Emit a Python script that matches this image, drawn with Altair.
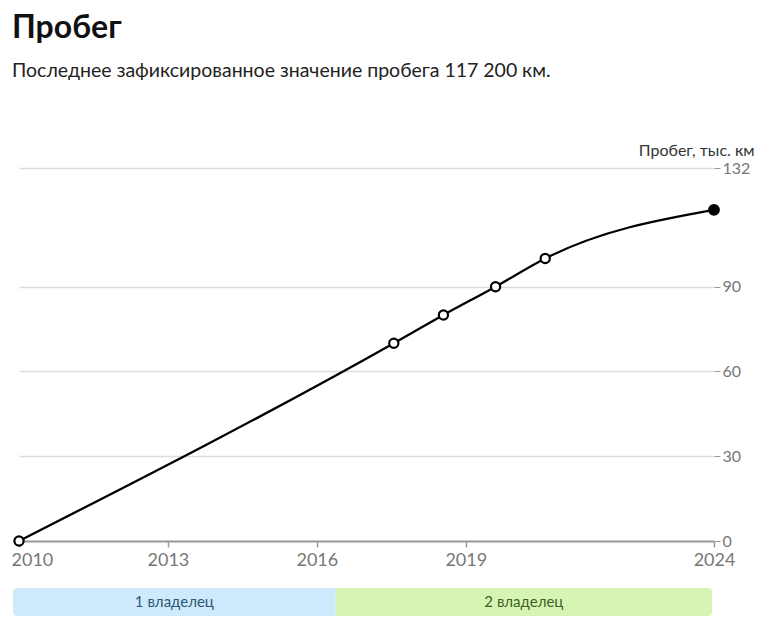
import altair as alt
import pandas as pd

# ---- data ----
years = [2010.0, 2017.55, 2018.55, 2019.6, 2020.6, 2024.0]
mileage = [0, 70, 80, 90, 100, 117.2]          # тыс. км
is_last = [False, False, False, False, False, True]

owner_labels = ["1 владелец", "2 владелец"]
owner_start = [2009.88, 2016.38]
owner_end = [2016.38, 2023.96]

x_ticks = [2010, 2013, 2016, 2019, 2024]
y_ticks = [0, 30, 60, 90, 132]

FONT = "Lato"
W, H = 695, 373

df = pd.DataFrame({"year": years, "km": mileage, "last": is_last})
bdf = pd.DataFrame({"owner": owner_labels, "start": owner_start, "end": owner_end})

x_scale = alt.Scale(domain=[2010, 2024], nice=False, zero=False)
y_scale = alt.Scale(domain=[0, 132], nice=False)

x_axis = alt.Axis(
    values=x_ticks, format="d", title=None, grid=False,
    labelFontSize=18, labelColor="#777", labelFont=FONT, labelPadding=4,
    labelFlush=False,
    labelAlign={"condition": {"test": "datum.value == 2010", "value": "left"}, "value": "center"},
    labelOffset={"condition": {"test": "datum.value == 2010", "value": -8}, "value": 0},
    tickColor="#999", tickSize=6, tickWidth=1.5,
    domainColor="#999", domainWidth=2,
)
y_axis = alt.Axis(
    orient="right", values=y_ticks, title="Пробег, тыс. км",
    titleAngle=0, titleAlign="right", titleBaseline="alphabetic",
    titleX=40, titleY=-13, titleFontSize=16, titleFontWeight="normal",
    titleColor="#333", titleFont=FONT,
    labelFontSize=16, labelColor="#777", labelFont=FONT, labelPadding=2,
    labelBaseline="middle",
    tickColor="#999", tickSize=6, domain=False,
    grid=True, gridColor="#dcdcdc", gridWidth=1.3,
)

base = alt.Chart(df)
line = base.mark_line(color="black", strokeWidth=2.3, interpolate="monotone").encode(
    x=alt.X("year:Q", scale=x_scale, axis=x_axis),
    y=alt.Y("km:Q", scale=y_scale, axis=y_axis),
)
open_pts = base.transform_filter("!datum.last").mark_point(
    shape="circle", filled=True, fill="white", stroke="black",
    strokeWidth=2.2, size=85, opacity=1,
).encode(x="year:Q", y="km:Q")
last_pt = base.transform_filter("datum.last").mark_circle(
    color="black", size=140, opacity=1,
).encode(x="year:Q", y="km:Q")

top = alt.layer(line, open_pts, last_pt).properties(width=W, height=H)

bbase = alt.Chart(bdf)
rect1 = bbase.transform_filter(alt.datum.owner == owner_labels[0]).mark_rect(
    color="#cde9fb", cornerRadiusTopLeft=4, cornerRadiusBottomLeft=4,
).encode(x=alt.X("start:Q", scale=x_scale, axis=None), x2="end:Q")
rect2 = bbase.transform_filter(alt.datum.owner == owner_labels[1]).mark_rect(
    color="#d6f5b2", cornerRadiusTopRight=4, cornerRadiusBottomRight=4,
).encode(x=alt.X("start:Q", scale=x_scale, axis=None), x2="end:Q")
labels = bbase.transform_calculate(mid="(datum.start + datum.end) / 2").mark_text(
    font=FONT, fontSize=15, baseline="middle", align="center",
).encode(
    x=alt.X("mid:Q", scale=x_scale, axis=None),
    text="owner:N",
    color=alt.Color("owner:N", scale=alt.Scale(domain=owner_labels, range=["#2f5676", "#3e6128"]), legend=None),
)
band = alt.layer(rect1, rect2, labels).properties(width=W, height=28)

chart = alt.vconcat(top, band, spacing=19).properties(
    title=alt.TitleParams(
        text="Пробег",
        subtitle="Последнее зафиксированное значение пробега 117\u202f200\u202fкм.",
        anchor="start", frame="group", dx=-7,
        font=FONT, fontSize=32, fontWeight="bold", color="#111",
        subtitleFont=FONT, subtitleFontSize=19.5, subtitleColor="#222",
        subtitlePadding=17, offset=61,
    ),
    padding={"left": 9, "top": 11, "right": 5, "bottom": 5},
).configure(font=FONT).configure_view(stroke=None)

chart.save("out.html", embed_options={"renderer": "svg", "actions": False})
